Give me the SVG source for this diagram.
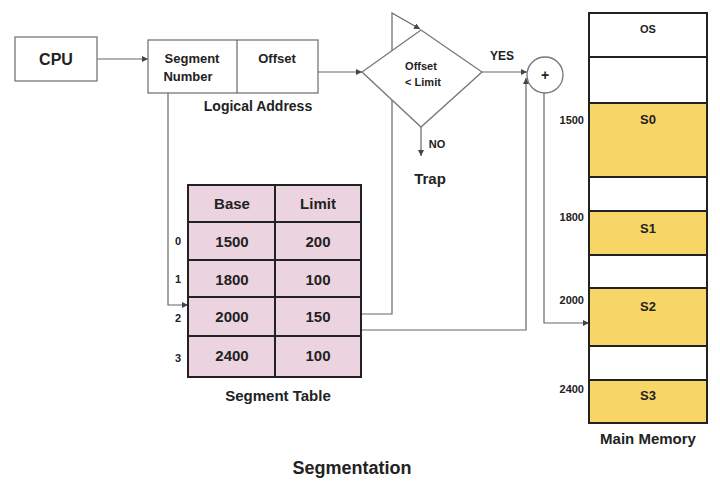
<svg xmlns="http://www.w3.org/2000/svg" width="720" height="485" viewBox="0 0 720 485">
<defs>
<style>
text{font-family:"Liberation Sans",Arial,sans-serif;font-weight:bold;fill:#222;text-anchor:middle}
.b{fill:#fff;stroke:#777;stroke-width:1.3}
.t{fill:#ecd3e0;stroke:#222;stroke-width:2}
.m{stroke:#222;stroke-width:2}
.w{fill:#fff}.y{fill:#f8d567}
.c{fill:none;stroke:#666;stroke-width:1.2}
</style>
<marker id="a" viewBox="0 0 6 6" refX="6" refY="3" markerWidth="5" markerHeight="5" orient="auto"><path d="M0,0L6,3L0,6z" fill="#444"/></marker>
</defs>
<rect width="720" height="485" fill="#fff"/>
<g id="connectors">
<path class="c" d="M97,59H148" marker-end="url(#a)"/>
<path class="c" d="M318,72H362" marker-end="url(#a)"/>
<path class="c" d="M482,72H527" marker-end="url(#a)"/>
<path class="c" d="M421,127V156" marker-end="url(#a)"/>
<path class="c" d="M168,93V305H188" marker-end="url(#a)"/>
<path class="c" d="M343,314H392V13L420,29" marker-end="url(#a)"/>
<path class="c" d="M260,330H526V78" marker-end="url(#a)"/>
<path class="c" d="M544,93V323H589" marker-end="url(#a)"/>
</g>
<g id="cpu"><rect class="b" x="15" y="37" width="82" height="44"/><text x="56" y="65" font-size="16">CPU</text></g>
<g id="logical">
<rect class="b" x="148" y="40" width="170" height="53"/><line class="c" x1="237" y1="40" x2="237" y2="93"/>
<text x="192" y="63" font-size="13">Segment</text><text x="188" y="81" font-size="13">Number</text>
<text x="277" y="63" font-size="13">Offset</text>
<text x="258" y="111" font-size="14">Logical  Address</text>
</g>
<g id="decision">
<path class="b" d="M421,30L482,72L421,127L362,72z"/>
<text x="421" y="70" font-size="11">Offset</text><text x="423" y="86" font-size="11">&lt; Limit</text>
<text x="502" y="60" font-size="12">YES</text>
<text x="437" y="148" font-size="11">NO</text>
<text x="430" y="184" font-size="15">Trap</text>
</g>
<g id="adder"><circle class="b" cx="545" cy="75" r="18"/><text x="545" y="80" font-size="14">+</text></g>
<g id="table">
<rect class="t" x="188" y="185" width="173" height="192"/>
<path class="m" d="M275,185V377M188,222H361M188,260H361M188,297H361M188,336H361" fill="none"/>
<g font-size="15"><text x="232" y="209">Base</text><text x="318" y="209">Limit</text>
<text x="232" y="247">1500</text><text x="318" y="247">200</text>
<text x="232" y="285">1800</text><text x="318" y="285">100</text>
<text x="232" y="322">2000</text><text x="318" y="322">150</text>
<text x="232" y="361">2400</text><text x="318" y="361">100</text></g>
<g font-size="11"><text x="178" y="245">0</text><text x="178" y="283">1</text><text x="178" y="322">2</text><text x="178" y="362">3</text></g>
<text x="278" y="401" font-size="15">Segment Table</text>
</g>
<g id="memory">
<g class="m"><rect class="w" x="589" y="13" width="118" height="44"/><rect class="w" x="589" y="57" width="118" height="46"/>
<rect class="y" x="589" y="103" width="118" height="74"/><rect class="w" x="589" y="177" width="118" height="34"/>
<rect class="y" x="589" y="211" width="118" height="44"/><rect class="w" x="589" y="255" width="118" height="33"/>
<rect class="y" x="589" y="288" width="118" height="58"/><rect class="w" x="589" y="346" width="118" height="34"/>
<rect class="y" x="589" y="380" width="118" height="43"/></g>
<g font-size="13"><text x="648" y="33" font-size="11">OS</text><text x="648" y="124">S0</text><text x="648" y="233">S1</text><text x="648" y="311">S2</text><text x="648" y="400">S3</text></g>
<g font-size="11" style="text-anchor:end"><text x="584" y="124" style="text-anchor:end">1500</text><text x="584" y="221" style="text-anchor:end">1800</text><text x="584" y="304" style="text-anchor:end">2000</text><text x="584" y="393" style="text-anchor:end">2400</text></g>
<text x="648" y="444" font-size="15">Main Memory</text>
</g>
<text x="352" y="474" font-size="18">Segmentation</text>
</svg>
